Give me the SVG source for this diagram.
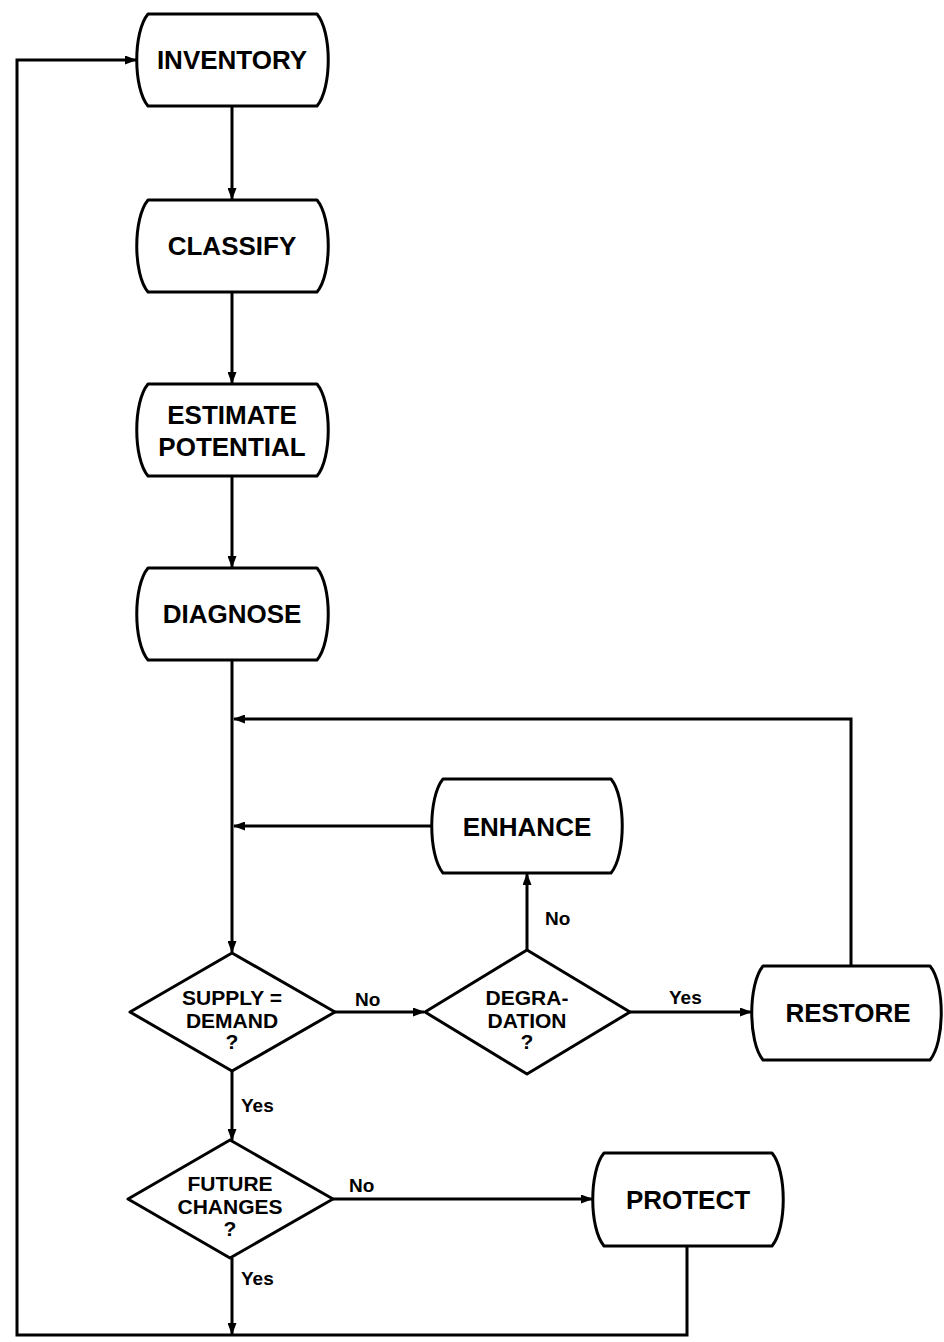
<svg xmlns="http://www.w3.org/2000/svg" width="944" height="1342" viewBox="0 0 944 1342">
<style>
.shape{fill:#fff;stroke:#000;stroke-width:3;stroke-linejoin:round}
.conn{fill:none;stroke:#000;stroke-width:3}
.t{font-family:"Liberation Sans",Arial,sans-serif;font-weight:bold;fill:#000;text-anchor:middle}
.big{font-size:26px}
.mid{font-size:21px}
.lbl{font-size:19px;text-anchor:start}
</style>
<defs>
<marker id="arr" markerWidth="12" markerHeight="9" refX="11" refY="4.5" orient="auto" markerUnits="userSpaceOnUse">
<path d="M0,0 L12,4.5 L0,9 Z" fill="#000"/>
</marker>
</defs>
<rect width="944" height="1342" fill="#fff"/>
<g id="connectors">
<path class="conn" d="M232,106 V199" marker-end="url(#arr)"/>
<path class="conn" d="M232,292 V383" marker-end="url(#arr)"/>
<path class="conn" d="M232,476 V567" marker-end="url(#arr)"/>
<path class="conn" d="M232,660 V952" marker-end="url(#arr)"/>
<path class="conn" d="M851,966 V719 H234" marker-end="url(#arr)"/>
<path class="conn" d="M432,826 H234" marker-end="url(#arr)"/>
<path class="conn" d="M335,1012 H424" marker-end="url(#arr)"/>
<path class="conn" d="M527,950 V874" marker-end="url(#arr)"/>
<path class="conn" d="M630,1012 H751" marker-end="url(#arr)"/>
<path class="conn" d="M232,1071 V1140" marker-end="url(#arr)"/>
<path class="conn" d="M333,1199 H592" marker-end="url(#arr)"/>
<path class="conn" d="M232,1258 V1334" marker-end="url(#arr)"/>
<path class="conn" d="M687,1246 V1335 H17 V60 H136" marker-end="url(#arr)"/>
<text class="t lbl" x="355" y="1006">No</text>
<text class="t lbl" x="545" y="925">No</text>
<text class="t lbl" x="669" y="1004">Yes</text>
<text class="t lbl" x="241" y="1112">Yes</text>
<text class="t lbl" x="349" y="1192">No</text>
<text class="t lbl" x="241" y="1285">Yes</text>
</g>
<g id="inventory">
<path class="shape" d="M148,14 H317 C332,32 332,88 317,106 H148 C133,88 133,32 148,14 Z"/>
<text class="t big" x="232" y="69">INVENTORY</text>
</g>
<g id="classify">
<path class="shape" d="M148,200 H317 C332,218 332,274 317,292 H148 C133,274 133,218 148,200 Z"/>
<text class="t big" x="232" y="255">CLASSIFY</text>
</g>
<g id="estimate">
<path class="shape" d="M148,384 H317 C332,402 332,458 317,476 H148 C133,458 133,402 148,384 Z"/>
<text class="t big" x="232" y="424">ESTIMATE</text>
<text class="t big" x="232" y="456">POTENTIAL</text>
</g>
<g id="diagnose">
<path class="shape" d="M148,568 H317 C332,586 332,642 317,660 H148 C133,642 133,586 148,568 Z"/>
<text class="t big" x="232" y="623">DIAGNOSE</text>
</g>
<g id="enhance">
<path class="shape" d="M443,779 H611 C626,797 626,855 611,873 H443 C428,855 428,797 443,779 Z"/>
<text class="t big" x="527" y="836">ENHANCE</text>
</g>
<g id="restore">
<path class="shape" d="M763,966 H930 C945,984 945,1042 930,1060 H763 C748,1042 748,984 763,966 Z"/>
<text class="t big" x="848" y="1022">RESTORE</text>
</g>
<g id="protect">
<path class="shape" d="M604,1153 H772 C787,1171 787,1228 772,1246 H604 C589,1228 589,1171 604,1153 Z"/>
<text class="t big" x="688" y="1209">PROTECT</text>
</g>
<g id="supply">
<path class="shape" d="M232,953 L335,1012 L232,1071 L130,1012 Z"/>
<text class="t mid" x="232" y="1005">SUPPLY =</text>
<text class="t mid" x="232" y="1028">DEMAND</text>
<text class="t mid" x="232" y="1049">?</text>
</g>
<g id="degradation">
<path class="shape" d="M527,950 L630,1012 L527,1074 L425,1012 Z"/>
<text class="t mid" x="527" y="1005">DEGRA-</text>
<text class="t mid" x="527" y="1028">DATION</text>
<text class="t mid" x="527" y="1049">?</text>
</g>
<g id="future">
<path class="shape" d="M230,1140 L333,1199 L230,1258 L128,1199 Z"/>
<text class="t mid" x="230" y="1191">FUTURE</text>
<text class="t mid" x="230" y="1214">CHANGES</text>
<text class="t mid" x="230" y="1236">?</text>
</g>
</svg>
